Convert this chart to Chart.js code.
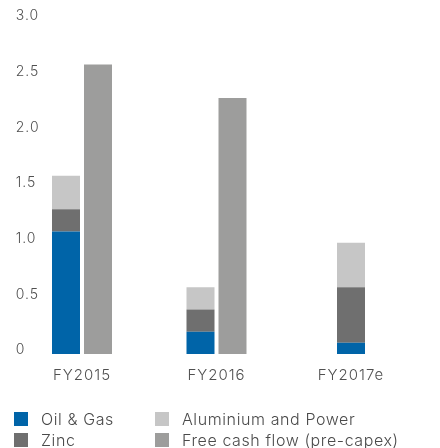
<!DOCTYPE html>
<html>
<head>
<meta charset="utf-8">
<script src="https://cdn.jsdelivr.net/npm/chart.js@4/dist/chart.umd.min.js"></script>
<style>
  html, body { margin: 0; padding: 0; background: #fff; }
  #wrap { position: relative; width: 440px; height: 448px; }
  #c { position: absolute; left: 0; top: 0; }
  #legend { position: absolute; left: 0; top: 405px; width: 440px; height: 43px;
            font-family: Inter, "Noto Sans", sans-serif; font-weight: 300; font-size: 16px; letter-spacing: 0.6px; color: #4a4a4a; }
  .li { position: absolute; height: 14px; white-space: nowrap; }
  .li .sw { position: absolute; left: 0; top: 0; width: 14px; height: 14px; }
  .li .tx { position: absolute; left: 27px; top: -3px; line-height: 20px; }
</style>
</head>
<body>
<div id="wrap">
  <canvas id="c" width="440" height="448"></canvas>
  <div id="legend"></div>
</div>
<script>
// ---- data ----
const categories = ['FY2015', 'FY2016', 'FY2017e'];
const oilGas     = [1.1, 0.2, 0.1];
const zinc       = [0.2, 0.2, 0.5];
const aluminium  = [0.3, 0.2, 0.4];
const freeCash   = [2.6, 2.3, null];
const yTickLabels = ['0', '0.5', '1.0', '1.5', '2.0', '2.5', '3.0'];
const seriesNames = ['Oil & Gas', 'Zinc', 'Aluminium and Power', 'Free cash flow (pre-capex)'];
const legendOrder = [0, 2, 1, 3];

const colors = ['#0064a8', '#6f6f6f', '#c6c6c6', '#9d9d9c'];
const FONT = 'Inter, "Noto Sans", sans-serif';
const common = { categoryPercentage: 64 / 134.5, barPercentage: 28 / 32, maxBarThickness: 28, skipNull: true };

const spacingPlugin = {
  id: 'letterSpacing',
  beforeDraw(chart) { if ('letterSpacing' in chart.ctx) chart.ctx.letterSpacing = '1px'; }
};

const chart = new Chart(document.getElementById('c'), {
  type: 'bar',
  data: {
    labels: categories,
    datasets: [
      Object.assign({ label: seriesNames[0], data: oilGas,    backgroundColor: colors[0], stack: 'seg' }, common),
      Object.assign({ label: seriesNames[1], data: zinc,      backgroundColor: colors[1], stack: 'seg' }, common),
      Object.assign({ label: seriesNames[2], data: aluminium, backgroundColor: colors[2], stack: 'seg' }, common),
      Object.assign({ label: seriesNames[3], data: freeCash,  backgroundColor: colors[3], stack: 'fcf' }, common)
    ]
  },
  plugins: [spacingPlugin],
  options: {
    responsive: false,
    animation: false,
    layout: { padding: { left: 14.75, right: 21.75, top: 20, bottom: 64 } },
    plugins: { legend: { display: false }, tooltip: { enabled: false } },
    scales: {
      x: {
        stacked: true,
        offset: true,
        grid: { display: false },
        border: { display: false },
        ticks: { color: '#505050', padding: 4, font: { family: FONT, size: 15, weight: 300 } },
        afterFit: s => { s.height = 30; }
      },
      y: {
        stacked: true,
        min: 0, max: 3,
        grid: { display: false },
        border: { display: false },
        ticks: {
          stepSize: 0.5, mirror: true, padding: 1, labelOffset: -4,
          color: '#505050', font: { family: FONT, size: 14, weight: 300 },
          callback: (v, i) => yTickLabels[i]
        },
        afterFit: s => { s.width = 0; }
      }
    }
  }
});

// HTML legend built from the chart's datasets
(function buildLegend() {
  const el = document.getElementById('legend');
  const pos = [[14, 7], [155, 7], [14, 28], [155, 28]];
  legendOrder.forEach((di, k) => {
    const ds = chart.data.datasets[di];
    const item = document.createElement('div');
    item.className = 'li';
    item.style.left = pos[k][0] + 'px';
    item.style.top = pos[k][1] + 'px';
    const sw = document.createElement('span');
    sw.className = 'sw'; sw.style.background = ds.backgroundColor;
    const tx = document.createElement('span');
    tx.className = 'tx'; tx.textContent = ds.label;
    item.appendChild(sw); item.appendChild(tx);
    el.appendChild(item);
  });
})();
</script>
</body>
</html>
